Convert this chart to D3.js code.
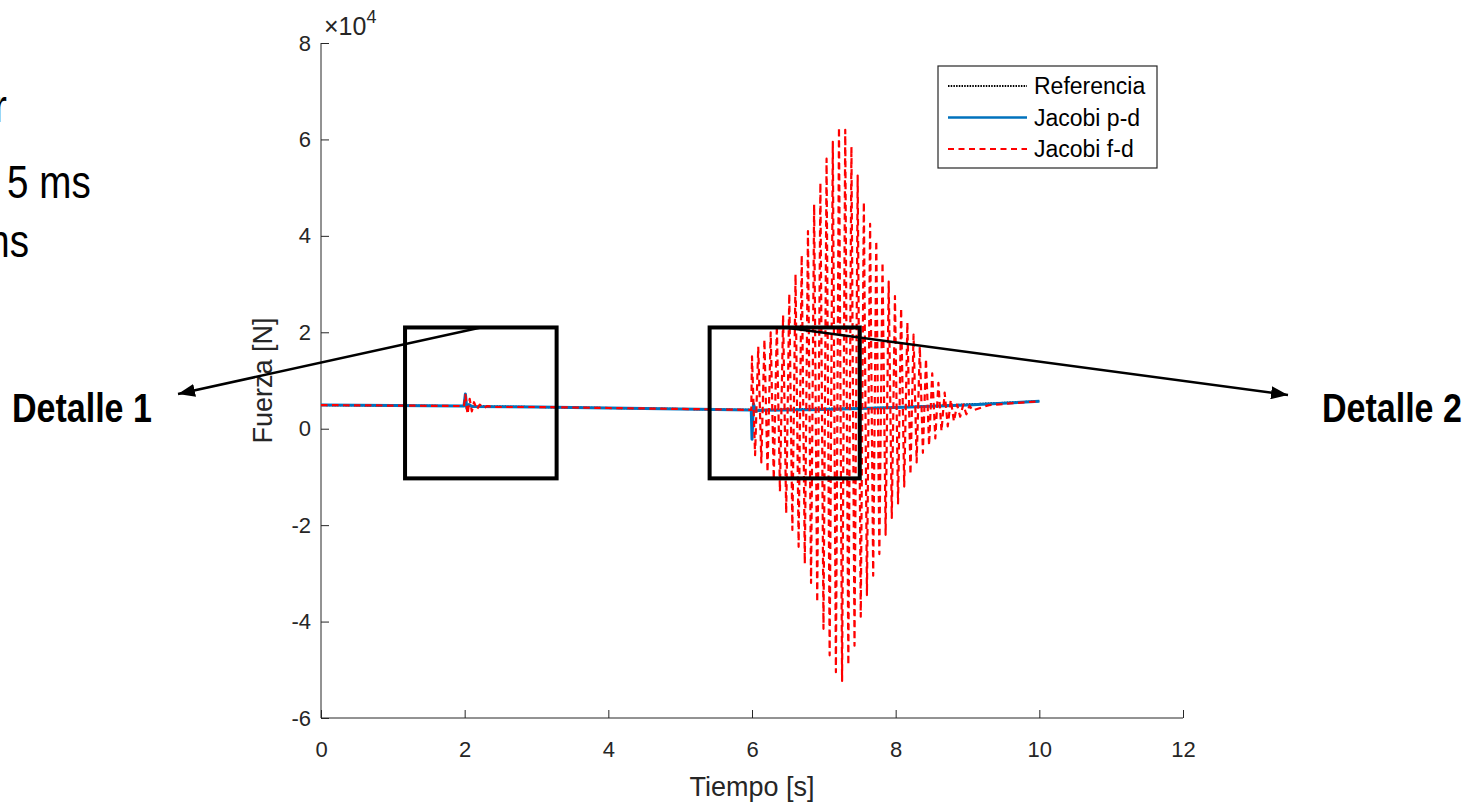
<!DOCTYPE html>
<html>
<head>
<meta charset="utf-8">
<script src="https://cdn.jsdelivr.net/npm/d3@7"></script>
<style>
  body { margin: 0; background: #fff; }
  text { font-family: "Liberation Sans", Arial, Helvetica, sans-serif; }
</style>
</head>
<body>
<script>
// ticks
const xTicks = [0, 2, 4, 6, 8, 10, 12];
const yTicks = [-60000, -40000, -20000, 0, 20000, 40000, 60000, 80000];

// Referencia (hidden below the other two)
const refTime  = [0, 2, 4, 6, 8, 10];
const refValue = [4900, 4700, 4300, 3900, 4400, 5700];

// Jacobi p-d
const pdTime  = [0, 1.0, 1.99, 2.01, 2.03, 2.06, 2.10, 3.0, 4.0, 5.0, 5.99, 6.00, 6.02, 6.05, 6.10, 7.0, 8.0, 9.0, 10.0];
const pdValue = [4900, 4800, 4700, 7200, 4200, 5000, 4600, 4500, 4300, 4100, 3900, -2200, 5200, 3600, 3800, 4000, 4400, 4900, 5700];

// Jacobi f-d: quiet part, then the oscillation peaks (max, min, max, ...)
const fdTime = [0, 1.0, 1.99, 2.01, 2.04, 2.07, 2.10, 2.13, 2.17, 2.21, 2.26, 2.32, 2.40, 3.0, 4.0, 5.0, 5.99,
  6.000, 6.043, 6.087, 6.130, 6.173, 6.216, 6.260, 6.303, 6.346, 6.389, 6.433, 6.476,
  6.519, 6.562, 6.606, 6.649, 6.692, 6.735, 6.779, 6.822, 6.865, 6.908, 6.952, 6.995,
  7.038, 7.081, 7.125, 7.168, 7.211, 7.254, 7.298, 7.341, 7.384, 7.427, 7.471, 7.514,
  7.557, 7.600, 7.644, 7.687, 7.730, 7.773, 7.817, 7.860, 7.903, 7.946, 7.990, 8.033,
  8.076, 8.119, 8.163, 8.206, 8.249, 8.292, 8.336, 8.379, 8.422, 8.465, 8.509, 8.552,
  8.595, 8.638, 8.682, 8.725, 8.768, 8.811, 8.855, 8.898, 8.941, 8.984, 9.028, 9.071,
  9.30, 10.0];
const fdValue = [4900, 4800, 4700, 7000, 3000, 6200, 3600, 5500, 4000, 5000, 4300, 4700, 4500, 4500, 4300, 4100, 3900,
  15000, -5500, 17000, -7000, 18500, -9000, 20000, -10500, 21500, -13000, 23500, -17500,
  28000, -21000, 32000, -24500, 36000, -28000, 41000, -32000, 46500, -36000, 51000, -41500,
  56000, -47000, 59500, -50500, 62500, -52300, 62000, -49000, 58500, -45000, 52500, -39000,
  47000, -34500, 42500, -30500, 39000, -26000, 34500, -22000, 30500, -18500, 27500, -15500,
  25000, -12000, 22000, -9500, 19500, -7000, 17000, -5000, 14500, -3500, 11500, -2000,
  9500, -500, 7500, 500, 6000, 1500, 5000, 2500, 5000, 3000, 4800, 3800,
  4900, 5700];

const legendLabels = ["Referencia", "Jacobi p-d", "Jacobi f-d"];

// zoom boxes (time from-to, force from-to)
const detailBoxes = [
  {t0: 1.17, t1: 3.28, v0: -10300, v1: 21000, label: "Detalle 1"},
  {t0: 5.41, t1: 7.50, v0: -10300, v1: 21000, label: "Detalle 2"}
];

const W = 1470, H = 802;
const margin = {top: 43, right: 287, bottom: 84, left: 321};
const width = W - margin.left - margin.right,
      height = H - margin.top - margin.bottom;
const axisColor = "#262626";

const x = d3.scaleLinear().domain([0, 12]).range([0, width]);
const y = d3.scaleLinear().domain([-60000, 80000]).range([height, 0]);

const svg = d3.select("body").append("svg")
    .attr("width", W)
    .attr("height", H);

svg.append("defs").append("marker")
    .attr("id", "arrow")
    .attr("markerUnits", "userSpaceOnUse")
    .attr("viewBox", "0 0 17 13")
    .attr("refX", 17).attr("refY", 6.5)
    .attr("markerWidth", 17).attr("markerHeight", 13)
    .attr("orient", "auto")
    .append("path")
    .attr("d", "M0,0 L17,6.5 L0,13 Z")
    .attr("fill", "#000");

// slide text cut off on the left (narrowed like the slide font)
const slideText = (px, py, size, anchor, txt) => svg.append("text")
    .attr("transform", "translate(" + px + "," + py + ") scale(0.84,1)")
    .attr("text-anchor", anchor)
    .style("font-size", size + "px")
    .attr("fill", "#000")
    .text(txt);
slideText(7, 122, 46, "end", "r");
slideText(7, 198, 46, "start", "5 ms");
slideText(29, 257, 46, "end", "ms");

const g = svg.append("g")
    .attr("transform", "translate(" + margin.left + "," + margin.top + ")");

// axes, ticks pointing inwards
const xAxis = d3.axisBottom(x).tickValues(xTicks).tickSize(-8).tickPadding(23).tickFormat(d3.format("d"));
const yAxis = d3.axisLeft(y).tickValues(yTicks).tickSize(-8).tickPadding(10).tickFormat(d => d / 10000);

g.append("g").attr("transform", "translate(0," + height + ")").call(xAxis);
g.append("g").call(yAxis);

g.selectAll(".domain").remove();
g.selectAll(".tick line").attr("stroke", axisColor);
g.selectAll(".tick text")
    .attr("fill", axisColor)
    .style("font-size", "22px")
    .style("font-family", "'Liberation Sans', Arial, sans-serif");
// plain axis lines without end caps
g.append("line").attr("x1", 0).attr("x2", width).attr("y1", height).attr("y2", height).attr("stroke", axisColor);
g.append("line").attr("x1", 0).attr("x2", 0).attr("y1", 0).attr("y2", height).attr("stroke", axisColor);

// exponent
const expo = g.append("text").attr("x", 3).attr("y", -8).attr("fill", axisColor).style("font-size", "25px");
expo.append("tspan").text("\u00d710");
expo.append("tspan").attr("dy", -12).style("font-size", "18px").text("4");

// axis labels
g.append("text")
    .attr("x", width / 2).attr("y", height + 78)
    .attr("text-anchor", "middle").style("font-size", "27px").attr("fill", axisColor)
    .text("Tiempo [s]");
g.append("text")
    .attr("transform", "translate(-49," + height / 2 + ") rotate(-90)")
    .attr("text-anchor", "middle").style("font-size", "27px").attr("fill", axisColor)
    .text("Fuerza [N]");

// series
const line = d3.line().x(d => x(d[0])).y(d => y(d[1]));
const series = [
    {t: refTime, v: refValue, color: "#000", w: 2, dash: "1.5,1.2", lw: 2, ldash: "1.5,1.2"},
    {t: pdTime, v: pdValue, color: "#0072BD", w: 3, dash: null, lw: 2.5, ldash: null},
    {t: fdTime, v: fdValue, color: "#ff0000", w: 2.2, dash: "6.5,4.5", lw: 2, ldash: "6,4.5"}
];
series.forEach(s => {
    g.append("path")
        .datum(d3.zip(s.t, s.v))
        .attr("fill", "none")
        .attr("stroke", s.color)
        .attr("stroke-width", s.w)
        .attr("stroke-linejoin", "round")
        .attr("stroke-dasharray", s.dash)
        .attr("d", line);
});

// legend
const lg = g.append("g").attr("transform", "translate(" + (938 - margin.left) + "," + (66 - margin.top) + ")");
lg.append("rect").attr("width", 219).attr("height", 102)
    .attr("fill", "#fff").attr("stroke", axisColor).attr("stroke-width", 1.2);
legendLabels.forEach((lab, i) => {
    const s = series[i], yy = 20 + i * 31.5;
    lg.append("line").attr("x1", 10).attr("x2", 89).attr("y1", yy).attr("y2", yy)
        .attr("stroke", s.color).attr("stroke-width", s.lw)
        .attr("stroke-dasharray", s.ldash);
    lg.append("text").attr("x", 96).attr("y", yy).attr("dy", "0.35em")
        .style("font-size", "23px").attr("fill", "#000").text(lab);
});

// detail boxes + arrows
const tips = [[178, 394], [1288, 395]];
const labelX = [12, 1322];
detailBoxes.forEach((b, i) => {
    const x0 = margin.left + x(b.t0), x1 = margin.left + x(b.t1);
    const y0 = margin.top + y(b.v1), y1 = margin.top + y(b.v0);
    svg.append("rect")
        .attr("x", x0).attr("y", y0).attr("width", x1 - x0).attr("height", y1 - y0)
        .attr("fill", "none").attr("stroke", "#000").attr("stroke-width", 4);
    svg.append("line")
        .attr("x1", (x0 + x1) / 2).attr("y1", y0)
        .attr("x2", tips[i][0]).attr("y2", tips[i][1])
        .attr("stroke", "#000").attr("stroke-width", 2.5)
        .attr("marker-end", "url(#arrow)");
    svg.append("text")
        .attr("transform", "translate(" + labelX[i] + ",422) scale(0.83,1)")
        .style("font-size", "41px").attr("font-weight", "bold")
        .attr("fill", "#000")
        .text(b.label);
});
</script>
</body>
</html>
